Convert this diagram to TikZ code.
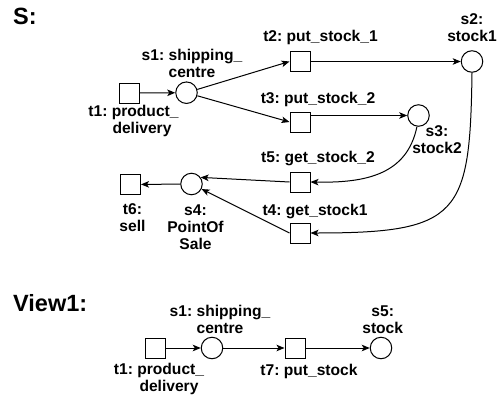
\documentclass[tikz,border=0pt]{standalone}
\usepackage{fontspec}
\setmainfont{Liberation Sans}
\usetikzlibrary{arrows.meta}
\begin{document}
\frenchspacing
\begin{tikzpicture}[x=1pt,y=1pt,
  trans/.style={draw, line width=1pt, minimum size=20pt, inner sep=0pt, fill=white},
  place/.style={draw, circle, line width=1pt, minimum size=21.5pt, inner sep=0pt, fill=white},
  lbl/.style={font=\frenchspacing\bfseries\fontsize{15.6}{17}\selectfont, inner sep=0pt, align=center, anchor=base},
  hdr/.style={font=\bfseries\fontsize{23.5}{26}\selectfont, inner sep=0pt, anchor=base west},
  arc/.style={line width=1pt, -{Stealth[length=8pt,width=6.5pt,inset=2pt]}},
]
\useasboundingbox (0,0) rectangle (500,-396);
% headers
\node[hdr] (hS) at (13,-25) {S:};
\node[hdr] (hV) at (13,-311.7) {View1:};
% net S
\node[trans] (t1) at (129,-93) {};
\node[place] (s1) at (186.5,-92.7) {};
\node[trans] (t2) at (300,-61.5) {};
\node[place] (s2) at (472,-61.5) {};
\node[trans] (t3) at (300,-122) {};
\node[place] (s3) at (418.5,-115.5) {};
\node[trans] (t5) at (300,-182) {};
\node[trans] (t4) at (300,-233) {};
\node[place] (s4) at (191.5,-184) {};
\node[trans] (t6) at (130.5,-184.5) {};
% labels S (base anchor = baseline of last line)
\node[lbl] (Ls1) at (192,-77.5) {s1: shipping\_\\centre};
\node[lbl] (Lt1) at (133.5,-133.5) {t1: product\_\\\hspace*{17pt}delivery};
\node[lbl] (Lt2) at (320.5,-41.7) {t2: put\_stock\_1};
\node[lbl] (Ls2) at (472,-41.7) {s2:\\stock1};
\node[lbl] (Lt3) at (318,-103.3) {t3: put\_stock\_2};
\node[lbl] (Ls3) at (437,-153.3) {s3:\\stock2};
\node[lbl] (Lt5) at (318,-162.7) {t5: get\_stock\_2};
\node[lbl] (Lt4) at (315,-215) {t4: get\_stock1};
\node[lbl] (Lt6) at (132.5,-231.7) {t6:\\sell};
\node[lbl] (Ls4) at (195.5,-249.3) {s4:\\PointOf\\Sale};
% arcs S
\draw[arc] (t1) -- (s1);
\draw[arc] (s1) -- (t2.west);
\draw[arc] (s1) -- (t3.west);
\draw[arc] (t2) -- (s2);
\draw[arc] (t3.east |- s3) -- (s3);
\draw[arc] (s3.-98) .. controls (407,-175) and (365,-183) .. (t5.east);
\draw[arc] (s2.south) .. controls (470,-215) and (460,-233) .. (t4.east);
\draw[arc] (t5.west) -- (s4.36);
\draw[arc] (t4.west) -- (s4);
\draw[arc] (s4) -- (t6);
% View1
\node[trans] (vt1) at (155.5,-348) {};
\node[place] (vs1) at (212,-348) {};
\node[trans] (vt7) at (295,-348) {};
\node[place] (vs5) at (381,-348) {};
\node[lbl] (Lvs1) at (220,-333.3) {s1: shipping\_\\centre};
\node[lbl] (Lvs5) at (382.7,-333.3) {s5:\\stock};
\node[lbl] (Lvt1) at (159,-391.7) {t1: product\_\\\hspace*{20pt}delivery};
\node[lbl] (Lvt7) at (309,-375) {t7: put\_stock};
\draw[arc] (vt1) -- (vs1);
\draw[arc] (vs1) -- (vt7);
\draw[arc] (vt7) -- (vs5);
\end{tikzpicture}
\end{document}
